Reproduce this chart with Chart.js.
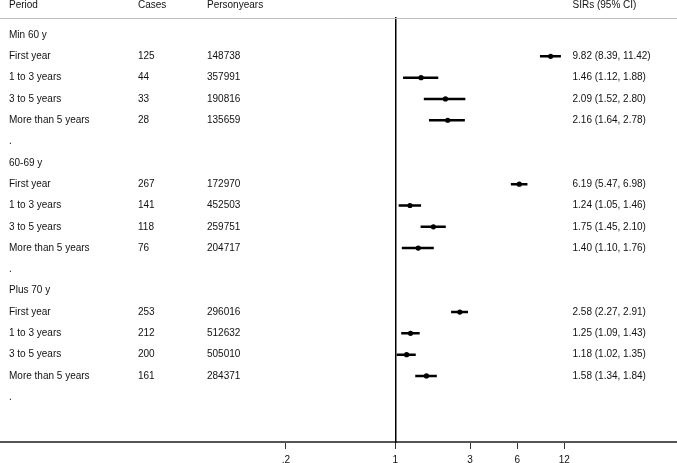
<!DOCTYPE html>
<html>
<head>
<meta charset="utf-8">
<script src="https://cdn.jsdelivr.net/npm/chart.js@4/dist/chart.umd.min.js"></script>
<style>
  html, body { margin: 0; padding: 0; background: #fff; }
  canvas { display: block; }
</style>
</head>
<body>
<canvas id="forest" width="677" height="463"></canvas>
<script>
// Table rows, top to bottom (row index = position on the y scale)
const periods = ['Min 60 y', 'First year', '1 to 3 years', '3 to 5 years', 'More than 5 years', '.',
  '60-69 y', 'First year', '1 to 3 years', '3 to 5 years', 'More than 5 years', '.',
  'Plus 70 y', 'First year', '1 to 3 years', '3 to 5 years', 'More than 5 years', '.'];
const cases = ['', 125, 44, 33, 28, '', '', 267, 141, 118, 76, '', '', 253, 212, 200, 161, ''];
const personyears = ['', 148738, 357991, 190816, 135659, '', '', 172970, 452503, 259751, 204717, '',
  '', 296016, 512632, 505010, 284371, ''];

// SIRs and 95% CI
const sir = [null, 9.82, 1.46, 2.09, 2.16, null, null, 6.19, 1.24, 1.75, 1.40, null, null, 2.58, 1.25, 1.18, 1.58, null];
const ciLow = [null, 8.39, 1.12, 1.52, 1.64, null, null, 5.47, 1.05, 1.45, 1.10, null, null, 2.27, 1.09, 1.02, 1.34, null];
const ciHigh = [null, 11.42, 1.88, 2.80, 2.78, null, null, 6.98, 1.46, 2.10, 1.76, null, null, 2.91, 1.43, 1.35, 1.84, null];

// x axis ticks
const xTicks = [0.2, 1, 3, 6, 12];
const xTickLabels = ['.2', '1', '3', '6', '12'];

const headers = ['Period', 'Cases', 'Personyears', 'SIRs (95% CI)'];

// build the datasets from the arrays above
const points = [];
const ciSegments = [];
for (let i = 0; i < periods.length; i++) {
  if (sir[i] === null) continue;
  points.push({ x: sir[i], y: i });
  ciSegments.push({ x: ciLow[i], y: i }, { x: ciHigh[i], y: i }, { x: ciHigh[i], y: null });
}

function sirText(i) {
  if (sir[i] === null) return '';
  return sir[i].toFixed(2) + ' (' + ciLow[i].toFixed(2) + ', ' + ciHigh[i].toFixed(2) + ')';
}

const FONT = '10px "Liberation Sans", Arial, sans-serif';
const colX = [9, 138, 207, 572.5];

// draws the table text and the header rule
const tablePlugin = {
  id: 'tableText',
  afterDraw(chart) {
    const ctx = chart.ctx;
    const y = chart.scales.y;
    const area = chart.chartArea;
    ctx.save();

    // header rule
    ctx.strokeStyle = '#bdbdbd';
    ctx.lineWidth = 1;
    ctx.beginPath();
    ctx.moveTo(0, area.top + 0.5);
    ctx.lineTo(chart.width, area.top + 0.5);
    ctx.stroke();

    ctx.font = FONT;
    ctx.fillStyle = '#111';
    ctx.textBaseline = 'middle';
    ctx.textAlign = 'left';

    const hy = y.getPixelForValue(-1.4);
    headers.forEach((h, k) => ctx.fillText(h, colX[k], hy));

    for (let i = 0; i < periods.length; i++) {
      const py = y.getPixelForValue(i);
      ctx.fillText(periods[i], colX[0], py);
      ctx.fillText(String(cases[i]), colX[1], py);
      ctx.fillText(String(personyears[i]), colX[2], py);
      ctx.fillText(sirText(i), colX[3], py);
    }
    ctx.restore();
  }
};

new Chart(document.getElementById('forest'), {
  type: 'scatter',
  data: {
    datasets: [
      {
        type: 'line',
        data: ciSegments,
        borderColor: '#000',
        borderWidth: 2.5,
        pointRadius: 0,
        showLine: true,
        spanGaps: false,
        fill: false
      },
      {
        data: points,
        backgroundColor: '#000',
        borderWidth: 0,
        pointRadius: 2.6
      }
    ]
  },
  options: {
    responsive: false,
    animation: false,
    devicePixelRatio: 1,
    layout: { autoPadding: false, padding: { top: 18, left: 0, right: 0, bottom: 0 } },
    plugins: {
      legend: { display: false },
      tooltip: { enabled: false }
    },
    scales: {
      x: {
        type: 'logarithmic',
        min: 0.00298,
        max: 63,
        afterBuildTicks: (scale) => {
          scale.ticks = xTicks.map(v => ({ value: v }));
        },
        // keep the axis low, labels may sit close to the bottom edge
        afterFit: (scale) => {
          scale.height = 21;
        },
        ticks: {
          autoSkip: false,
          maxRotation: 0,
          padding: 5,
          color: '#111',
          font: { family: '"Liberation Sans", Arial, sans-serif', size: 10 },
          callback: (v) => xTickLabels[xTicks.indexOf(v)]
        },
        grid: {
          drawOnChartArea: false,
          drawTicks: true,
          tickLength: 7,
          color: '#333',
          lineWidth: 1
        },
        border: { display: true, color: '#555', width: 2 }
      },
      y: {
        type: 'linear',
        reverse: true,
        min: -0.8,
        max: 19.1,
        position: { x: 1 },
        ticks: { display: false },
        grid: { display: false },
        border: { display: true, color: '#000', width: 1.5 }
      }
    }
  },
  plugins: [tablePlugin]
});
</script>
</body>
</html>
